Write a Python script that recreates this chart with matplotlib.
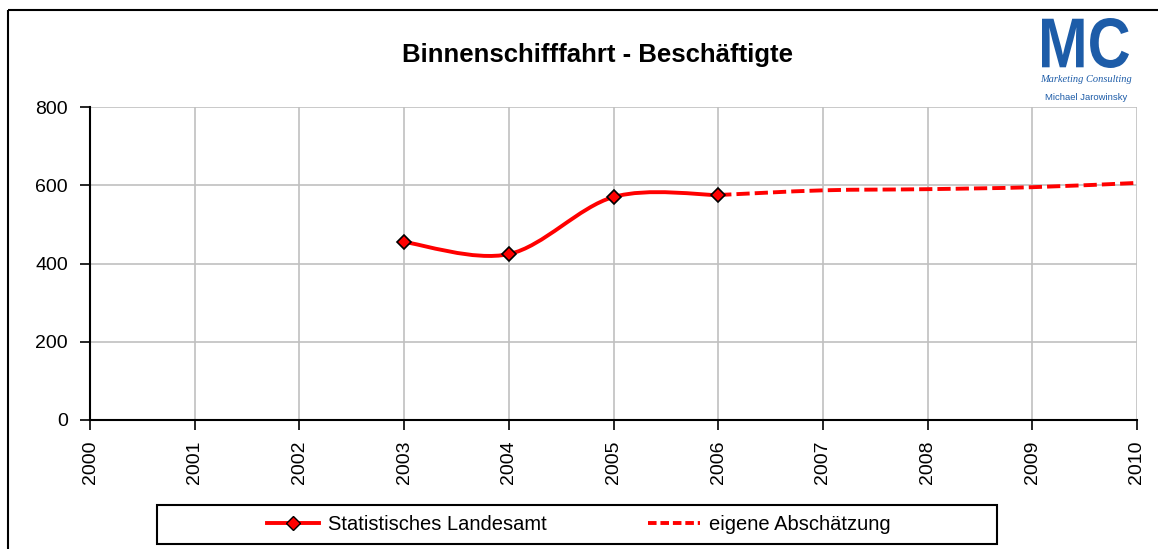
import numpy as np
import matplotlib
matplotlib.use("Agg")
import matplotlib.pyplot as plt
from matplotlib.path import Path
from matplotlib.patches import PathPatch, Rectangle
from matplotlib.lines import Line2D
from matplotlib.textpath import TextPath
from matplotlib.font_manager import FontProperties
from matplotlib.transforms import Affine2D

plt.rcParams['font.family'] = ['Liberation Sans', 'DejaVu Sans']

# ======================================
# DATA
# ======================================

years_stat = [2003, 2004, 2005, 2006]
values_stat = [455, 424, 570, 575]

years_est = [2006, 2007, 2008, 2009, 2010]
values_est = [575, 587, 590, 595, 606]

x_ticks = list(range(2000, 2011))
y_ticks = [0, 200, 400, 600, 800]

title = "Binnenschifffahrt - Beschäftigte"
label_stat = "Statistisches Landesamt"
label_est = "eigene Abschätzung"

RED = "#ff0000"
BLUE = "#1d5ca8"
LW = 2.8


# Excel style smoothed line as cubic bezier path
def smooth_path(xs, ys):
    pts = np.column_stack((xs, ys)).astype(float)
    n = len(pts)
    verts = [pts[0]]
    codes = [Path.MOVETO]
    for i in range(n - 1):
        p0 = pts[i - 1] if i > 0 else pts[i]
        p1 = pts[i]
        p2 = pts[i + 1]
        p3 = pts[i + 2] if i + 2 < n else pts[i + 1]
        c1 = p1 + (p2 - p0) / 6
        c2 = p2 - (p3 - p1) / 6
        verts += [c1, c2, p2]
        codes += [Path.CURVE4] * 3
    return Path(verts, codes)


# ======================================
# FIGURE
# ======================================

W, H = 1158, 549
fig = plt.figure(figsize=(W / 100, H / 100), dpi=100)

# pixel coords, origin top-left
px = Affine2D().scale(1, -1).translate(0, H)

# outer chart frame
fig.patches.append(Rectangle((8, 10), 1300, 700, transform=px,
                             fill=False, edgecolor="black", linewidth=1.5))

ax = fig.add_axes([90 / W, (H - 420) / H, 1047 / W, 313 / H])
ax.set_xlim(2000, 2010)
ax.set_ylim(0, 800)
ax.set_xticks(x_ticks)
ax.set_xticklabels([str(x) for x in x_ticks], rotation=90, fontsize=14)
ax.set_yticks(y_ticks)
ax.set_yticklabels([str(y) for y in y_ticks], fontsize=14)
ax.grid(True, color="#c0c0c0", linewidth=1.2)
ax.set_axisbelow(True)
for s in ["top", "right"]:
    ax.spines[s].set_visible(False)
for s in ["left", "bottom"]:
    ax.spines[s].set_linewidth(1.5)
ax.tick_params(direction="out", length=7, width=1.2)
ax.tick_params(axis="y", pad=9)
ax.tick_params(axis="x", pad=8)

ax.add_patch(PathPatch(smooth_path(years_stat, values_stat), fill=False,
                       edgecolor=RED, linewidth=LW, zorder=3))
ax.add_patch(PathPatch(smooth_path(years_est, values_est), fill=False,
                       edgecolor=RED, linewidth=LW, linestyle=(0, (3.4, 1.3)),
                       zorder=3))
ax.plot(years_stat, values_stat, linestyle="none", marker="D", markersize=7,
        markerfacecolor=RED, markeredgecolor="black", markeredgewidth=1.2,
        zorder=4, clip_on=False)

fig.text(597 / W, 1 - 55 / H, title, ha="center", va="center",
         fontsize=18.5, fontweight="bold")

# legend
fig.patches.append(Rectangle((157, 505), 840, 39, transform=px,
                             fill=False, edgecolor="black", linewidth=1.5))
handles = [
    Line2D([], [], color=RED, linewidth=LW, marker="D", markersize=7,
           markerfacecolor=RED, markeredgecolor="black"),
    Line2D([], [], color=RED, linewidth=LW, linestyle=(0, (2.2, 1.0))),
]
leg = fig.legend(handles, [label_stat, label_est], ncol=2,
                 loc="center", bbox_to_anchor=(579 / W, 1 - 525 / H),
                 fontsize=14.5, frameon=False,
                 handlelength=2.6, columnspacing=5.0, borderpad=0,
                 handletextpad=0.45)

# logo
mc = TextPath((0, 0), "MC", size=100,
              prop=FontProperties(family="Liberation Sans", weight="bold"))
ext = mc.get_extents()
sx = 87 / ext.width
sy = 50 / ext.height
mc_tr = (Affine2D().translate(-ext.x0, -ext.y0).scale(sx, sy)
         .translate(1042, H - 68))
fig.patches.append(PathPatch(mc, transform=mc_tr, facecolor=BLUE,
                             edgecolor="none"))
fig.text(1086 / W, 1 - 80 / H, "Marketing Consulting", ha="center",
         va="center", fontsize=7.5, style="italic", color=BLUE,
         family=["Liberation Serif"])
fig.text(1086 / W, 1 - 98 / H, "Michael Jarowinsky", ha="center",
         va="center", fontsize=6.8, color=BLUE)

fig.savefig("out.png", dpi=100)
